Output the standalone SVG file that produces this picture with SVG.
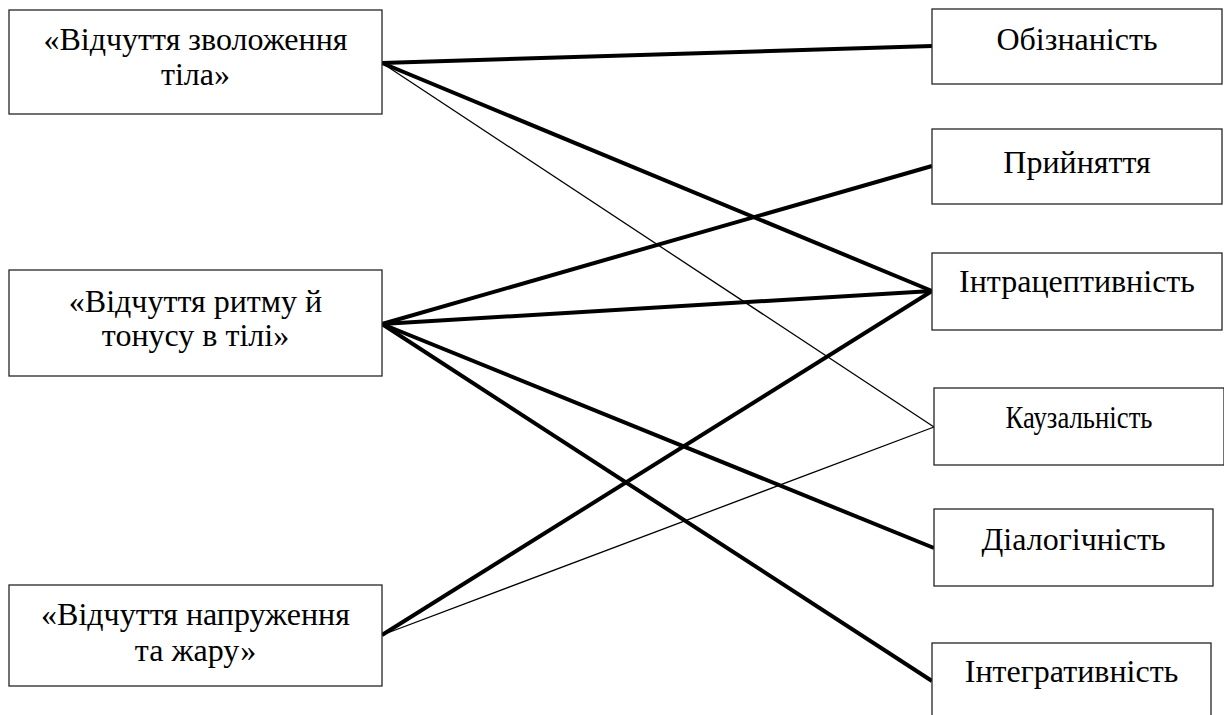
<svg xmlns="http://www.w3.org/2000/svg" width="1224" height="715" viewBox="0 0 1224 715">
  <style>
    .box { fill: #ffffff; stroke: #262626; stroke-width: 1.3; }
    .thick { stroke: #000000; stroke-width: 4; fill: none; }
    .thin { stroke: #000000; stroke-width: 1.3; fill: none; }
  </style>
  <rect width="1224" height="715" fill="#ffffff"/>

  <!-- connectors -->
  <g id="connectors">
    <line class="thick" x1="382" y1="63" x2="932" y2="46"/>
    <line class="thick" x1="382" y1="63" x2="932" y2="291"/>
    <line class="thin" x1="382" y1="63" x2="934" y2="427"/>
    <line class="thick" x1="382" y1="324" x2="932" y2="166"/>
    <line class="thick" x1="382" y1="324" x2="932" y2="291"/>
    <line class="thick" x1="382" y1="324" x2="934" y2="548"/>
    <line class="thick" x1="382" y1="324" x2="932" y2="681"/>
    <line class="thick" x1="382" y1="635" x2="932" y2="291"/>
    <line class="thin" x1="382" y1="635" x2="934" y2="427"/>
  </g>

  <g font-family="'Liberation Serif', 'Times New Roman', serif" font-size="32" fill="#000000" text-anchor="middle">
    <!-- left column -->
    <g id="node-moisture">
      <rect class="box" x="9" y="10" width="373" height="104"/>
      <text x="195.5" y="50">«Відчуття зволоження</text>
      <text x="195.5" y="85">тіла»</text>
    </g>
    <g id="node-rhythm">
      <rect class="box" x="9" y="270" width="373" height="106"/>
      <text x="195.5" y="312">«Відчуття ритму й</text>
      <text x="195.5" y="346">тонусу в тілі»</text>
    </g>
    <g id="node-tension">
      <rect class="box" x="9" y="585" width="373" height="101"/>
      <text x="195.5" y="625">«Відчуття напруження</text>
      <text x="195.5" y="661">та жару»</text>
    </g>

    <!-- right column -->
    <g id="node-awareness">
      <rect class="box" x="932" y="9" width="290" height="75"/>
      <text x="1077" y="50">Обізнаність</text>
    </g>
    <g id="node-acceptance">
      <rect class="box" x="932" y="129" width="290" height="75"/>
      <text x="1077" y="173">Прийняття</text>
    </g>
    <g id="node-intraception">
      <rect class="box" x="932" y="253" width="290" height="77"/>
      <text x="1077" y="292">Інтрацептивність</text>
    </g>
    <g id="node-causality">
      <rect class="box" x="934" y="388" width="290" height="77"/>
      <text x="1079" y="428" textLength="147" lengthAdjust="spacingAndGlyphs">Каузальність</text>
    </g>
    <g id="node-dialogue">
      <rect class="box" x="934" y="509" width="279" height="77"/>
      <text x="1073.5" y="550">Діалогічність</text>
    </g>
    <g id="node-integration">
      <rect class="box" x="932" y="643" width="279" height="90"/>
      <text x="1071.5" y="682">Інтегративність</text>
    </g>
  </g>
</svg>
